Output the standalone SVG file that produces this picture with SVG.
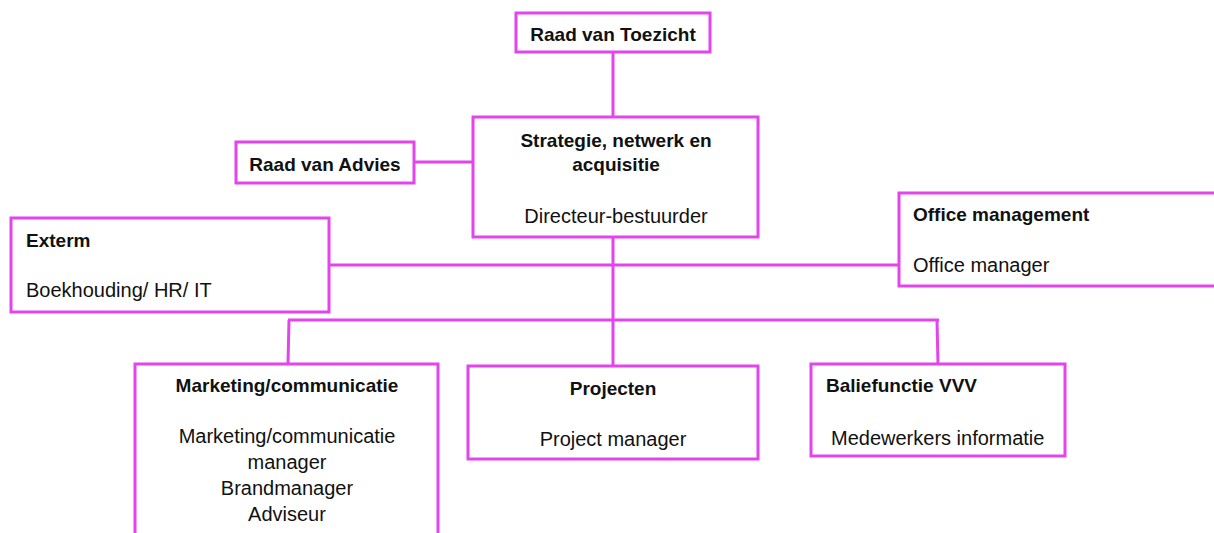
<svg xmlns="http://www.w3.org/2000/svg" width="1214" height="533" viewBox="0 0 1214 533">
<style>
.box{fill:#fff;stroke:#E244EE;stroke-width:3}
.ln{stroke:#E244EE;stroke-width:3;fill:none}
.b{font-family:"Liberation Sans",Arial,sans-serif;font-weight:bold;font-size:19px;fill:#111}
.r{font-family:"Liberation Sans",Arial,sans-serif;font-size:20px;fill:#111}
.m{text-anchor:middle}
</style>
<rect width="1214" height="533" fill="#fff"/>
<g id="connectors">
<line class="ln" x1="613" y1="52" x2="613" y2="117"/>
<line class="ln" x1="414" y1="162" x2="473" y2="162"/>
<line class="ln" x1="329" y1="265" x2="899" y2="265"/>
<line class="ln" x1="613" y1="237" x2="613" y2="320"/>
<line class="ln" x1="288" y1="320" x2="939" y2="320"/>
<line class="ln" x1="289" y1="320" x2="288" y2="364"/>
<line class="ln" x1="613" y1="320" x2="613" y2="366"/>
<line class="ln" x1="937" y1="320" x2="938" y2="364"/>
</g>
<g id="raad-toezicht">
<rect class="box" x="516" y="13" width="194" height="39"/>
<text class="b m" x="613" y="41">Raad van Toezicht</text>
</g>
<g id="strategie">
<rect class="box" x="473" y="117" width="285" height="120"/>
<text class="b m" x="616" y="147">Strategie, netwerk en</text>
<text class="b m" x="616" y="171">acquisitie</text>
<text class="r m" x="616" y="223">Directeur-bestuurder</text>
</g>
<g id="raad-advies">
<rect class="box" x="236" y="142" width="178" height="41"/>
<text class="b m" x="325" y="171">Raad van Advies</text>
</g>
<g id="exterm">
<rect class="box" x="11" y="218" width="318" height="94"/>
<text class="b" x="26" y="247">Exterm</text>
<text class="r" x="26" y="297">Boekhouding/ HR/ IT</text>
</g>
<g id="office">
<rect class="box" x="899" y="193" width="330" height="93"/>
<text class="b" x="913" y="221">Office management</text>
<text class="r" x="913" y="272">Office manager</text>
</g>
<g id="marketing">
<rect class="box" x="135" y="364" width="303" height="200"/>
<text class="b m" x="287" y="392">Marketing/communicatie</text>
<text class="r m" x="287" y="443">Marketing/communicatie</text>
<text class="r m" x="287" y="469">manager</text>
<text class="r m" x="287" y="495">Brandmanager</text>
<text class="r m" x="287" y="521">Adviseur</text>
</g>
<g id="projecten">
<rect class="box" x="468" y="366" width="290" height="93"/>
<text class="b m" x="613" y="395">Projecten</text>
<text class="r m" x="613" y="446">Project manager</text>
</g>
<g id="baliefunctie">
<rect class="box" x="811" y="364" width="254" height="92"/>
<text class="b" x="826" y="392">Baliefunctie VVV</text>
<text class="r" x="831" y="445">Medewerkers informatie</text>
</g>
</svg>
